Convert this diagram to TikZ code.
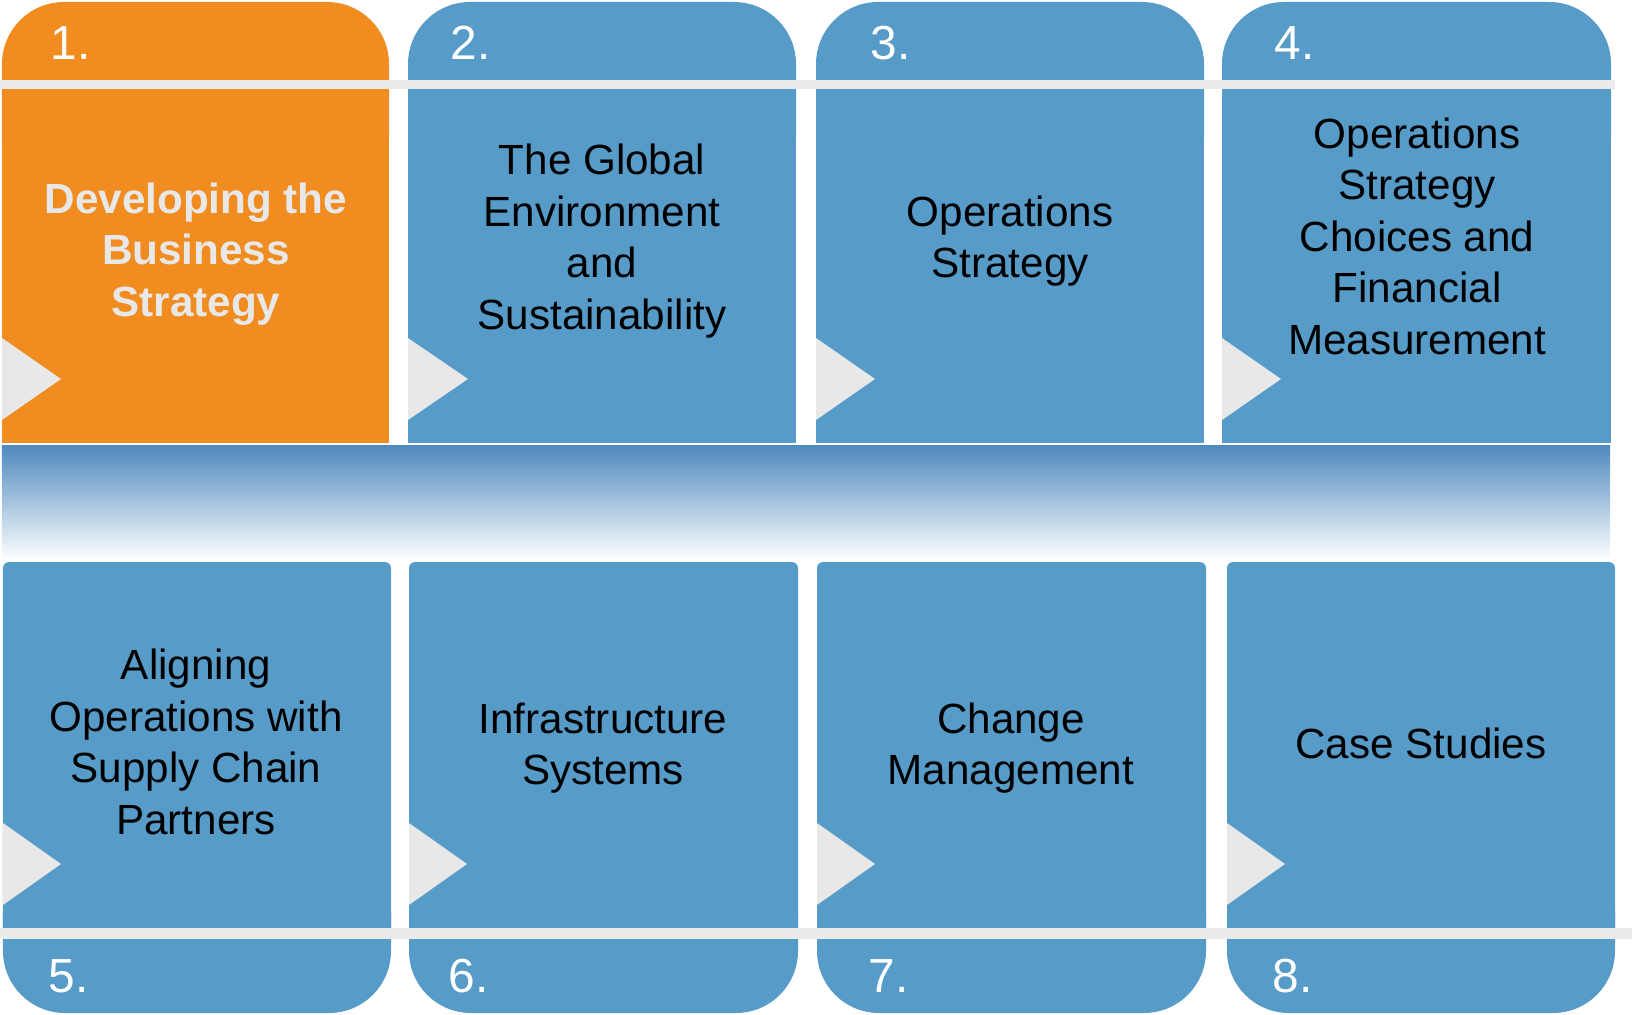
\documentclass[tikz,border=0pt]{standalone}
\usepackage{fontspec}
\setmainfont{Liberation Sans}
\definecolor{boxblue}{RGB}{87,155,200}
\definecolor{boxorange}{RGB}{240,140,32}
\definecolor{arrowgray}{RGB}{232,232,232}
\definecolor{linegray}{RGB}{235,235,235}
\definecolor{bandblue}{RGB}{78,137,190}
\definecolor{bandmid}{RGB}{182,199,222}
\begin{document}
\begin{tikzpicture}[x=0.01cm, y=-0.01cm]
      \tikzset{tabshape/.style={rounded corners=0.62cm},
               boxtext/.style={inner sep=0pt, align=center, font=\fontsize{12pt}{14.65pt}\selectfont},
               numtext/.style={inner sep=0pt, anchor=base west, text=white, font=\fontsize{13.6pt}{16pt}\selectfont}}
      \useasboundingbox (0,0) rectangle (1632,1015);
%% Top row
	% tabs
		\fill[boxorange, tabshape] (2,2) rectangle (389,200);
		\fill[boxblue, tabshape] (408,2) rectangle (796,200);
		\fill[boxblue, tabshape] (816,2) rectangle (1204,200);
		\fill[boxblue, tabshape] (1222,2) rectangle (1611,200);
	% boxes
		\fill[boxorange] (2,85) rectangle (389,443);
		\fill[boxblue] (408,85) rectangle (796,443);
		\fill[boxblue] (816,85) rectangle (1204,443);
		\fill[boxblue] (1222,85) rectangle (1611,443);
		\fill[linegray] (0,80) rectangle (1615,89);
	% triangles
		\fill[arrowgray] (2,338) -- (61,379) -- (2,420) -- cycle;
		\fill[arrowgray] (408,338) -- (468,379) -- (408,420) -- cycle;
		\fill[arrowgray] (816,338) -- (875,379) -- (816,420) -- cycle;
		\fill[arrowgray] (1222,338) -- (1281,379) -- (1222,420) -- cycle;
%% Band
		\shade[top color=bandblue, middle color=bandmid, bottom color=white] (2,445) rectangle (1610,560);
%% Bottom row
	% tabs
		\fill[boxblue, tabshape] (3,850) rectangle (391,1013);
		\fill[boxblue, tabshape] (409,850) rectangle (798,1013);
		\fill[boxblue, tabshape] (817,850) rectangle (1206,1013);
		\fill[boxblue, tabshape] (1227,850) rectangle (1615,1013);
	% boxes
		\fill[boxblue, rounded corners=0.06cm] (3,562) rectangle (391,932);
		\fill[boxblue, rounded corners=0.06cm] (409,562) rectangle (798,932);
		\fill[boxblue, rounded corners=0.06cm] (817,562) rectangle (1206,932);
		\fill[boxblue, rounded corners=0.06cm] (1227,562) rectangle (1615,932);
		\fill[linegray] (0,928) rectangle (1632,939);
	% triangles
		\fill[arrowgray] (3,823) -- (61,864) -- (3,905) -- cycle;
		\fill[arrowgray] (409,823) -- (467,864) -- (409,905) -- cycle;
		\fill[arrowgray] (817,823) -- (875,864) -- (817,905) -- cycle;
		\fill[arrowgray] (1227,823) -- (1285,864) -- (1227,905) -- cycle;
%% Numbers
		\node[numtext] (n1) at (50,59) {1.};
		\node[numtext] (n2) at (450,59) {2.};
		\node[numtext] (n3) at (870,59) {3.};
		\node[numtext] (n4) at (1274,59) {4.};
		\node[numtext] (n5) at (48,992) {5.};
		\node[numtext] (n6) at (448,992) {6.};
		\node[numtext] (n7) at (868,992) {7.};
		\node[numtext] (n8) at (1272,992) {8.};
%% Texts
		\node[boxtext, text=arrowgray, font=\fontsize{12pt}{14.65pt}\selectfont\bfseries] (t1) at (196,254) {Developing the\\Business\\Strategy};
		\node[boxtext] (t2) at (602,241) {The Global\\Environment\\and\\Sustainability};
		\node[boxtext] (t3) at (1010,241) {Operations\\Strategy};
		\node[boxtext] (t4) at (1417,236) {Operations\\Strategy\\Choices and\\Financial\\Measurement};
		\node[boxtext] (t5) at (196,742) {Aligning\\Operations with\\Supply Chain\\Partners};
		\node[boxtext] (t6) at (603,748) {Infrastructure\\Systems};
		\node[boxtext] (t7) at (1011,748) {Change\\Management};
		\node[boxtext] (t8) at (1421,743) {Case Studies};
\end{tikzpicture}
\end{document}
